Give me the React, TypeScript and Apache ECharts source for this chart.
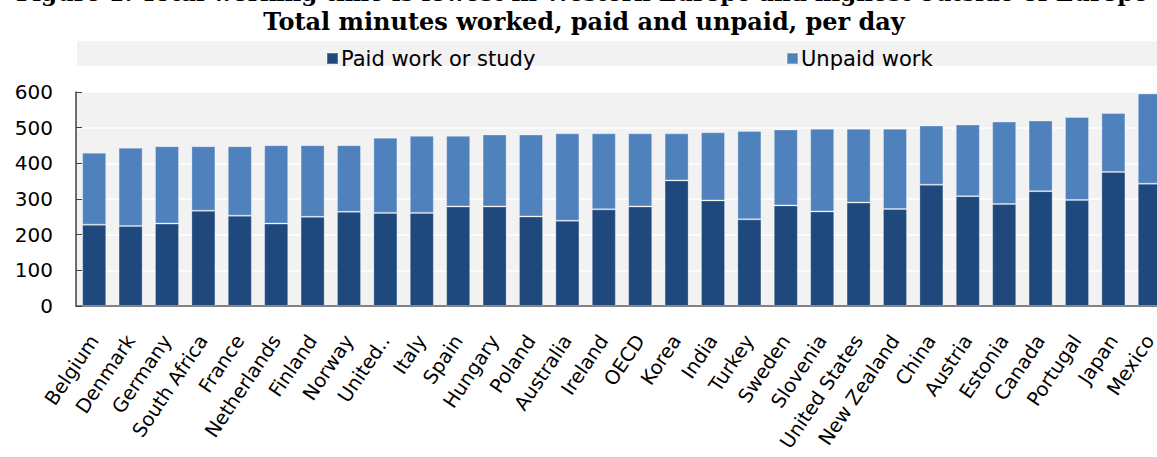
import React, { useEffect, useRef } from "react";
import * as echarts from "echarts";

const categories = [
  "Belgium", "Denmark", "Germany", "South Africa", "France", "Netherlands", "Finland", "Norway", "United..",
  "Italy", "Spain", "Hungary", "Poland", "Australia", "Ireland", "OECD", "Korea", "India", "Turkey", "Sweden",
  "Slovenia", "United States", "New Zealand", "China", "Austria", "Estonia", "Canada", "Portugal", "Japan", "Mexico",
];
const paidWork = [228, 224, 231, 267, 253, 231, 250, 264, 261, 261, 279, 279, 251, 239, 271, 279, 352, 296, 243, 282, 265, 290, 272, 340, 308, 286, 322, 297, 376, 343];
const unpaidWork = [202, 220, 217, 181, 195, 220, 201, 187, 211, 216, 198, 202, 230, 245, 213, 205, 132, 191, 248, 213, 232, 207, 225, 166, 201, 231, 198, 233, 165, 253];
const yTicks = [0, 100, 200, 300, 400, 500, 600];

const titleLine1 = "Figure 1. Total working time is lowest in Western Europe and highest outside of Europe";
const titleLine2 = "Total minutes worked, paid and unpaid, per day";
const seriesNames = ["Paid work or study", "Unpaid work"];

export default function App() {
  const ref = useRef<HTMLDivElement>(null);
  useEffect(() => {
    if (!ref.current) return;
    const chart = echarts.init(ref.current, null, { renderer: "svg" });
    const font = "'DejaVu Sans', sans-serif";
    chart.setOption({
      animation: false,
      backgroundColor: "#ffffff",
      graphic: [
        { type: "rect", z: -10, shape: { x: 77, y: 41, width: 1100, height: 25 }, style: { fill: "#f2f2f2" } },
        {
          type: "text", x: 582, y: -19,
          style: { text: titleLine1, fontFamily: "'DejaVu Serif', serif", fontWeight: "bold", fontSize: 23, fill: "#000", align: "center", verticalAlign: "top" },
        },
        {
          type: "text", x: 584, y: 9,
          style: { text: titleLine2, fontFamily: "'DejaVu Serif', serif", fontWeight: "bold", fontSize: 24, fill: "#000", align: "center", verticalAlign: "top" },
        },
      ],
      legend: [
        {
          data: [seriesNames[0]], left: 321, top: 43, itemWidth: 11, itemHeight: 11, itemGap: 6,
          icon: "rect", textStyle: { fontFamily: font, fontSize: 21, color: "#000", padding: [0, 0, 0, -2] },
        },
        {
          data: [seriesNames[1]], left: 781, top: 43, itemWidth: 11, itemHeight: 11, itemGap: 6,
          icon: "rect", textStyle: { fontFamily: font, fontSize: 21, color: "#000", padding: [0, 0, 0, -2] },
        },
      ],
      grid: {
        left: 76, right: 2, top: 92, bottom: 151,
        show: true, backgroundColor: "#f2f2f2", borderWidth: 0,
      },
      xAxis: {
        type: "category",
        data: categories,
        axisLine: { lineStyle: { color: "#595959", width: 1.5 } },
        axisTick: { show: false },
        axisLabel: { rotate: 56, interval: 0, margin: 31, fontFamily: font, fontSize: 19.5, color: "#000" },
      },
      yAxis: {
        type: "value",
        min: yTicks[0], max: yTicks[yTicks.length - 1], interval: 100,
        axisLine: { show: true, lineStyle: { color: "#404040", width: 1.5 } },
        axisTick: { show: true, inside: true, length: 6, lineStyle: { color: "#404040" } },
        splitLine: { show: true, lineStyle: { color: "#ffffff", width: 1.5 } },
        axisLabel: { margin: 23, fontFamily: font, fontSize: 20, color: "#000" },
      },
      series: [
        {
          name: seriesNames[0], type: "bar", stack: "total", data: paidWork, barWidth: "66%",
          itemStyle: { color: "#1f497d", borderColor: "rgba(255,255,255,0.25)", borderWidth: 1 },
        },
        {
          name: seriesNames[1], type: "bar", stack: "total", data: unpaidWork, barWidth: "66%",
          itemStyle: { color: "#4f81bd", borderColor: "rgba(255,255,255,0.3)", borderWidth: 1 },
        },
      ],
    });
    return () => chart.dispose();
  }, []);
  return (
    <div style={{ position: "absolute", left: 0, top: 0, width: 1157, height: 457, overflow: "hidden" }}>
      <div ref={ref} style={{ width: 1170, height: 457 }} />
    </div>
  );
}
